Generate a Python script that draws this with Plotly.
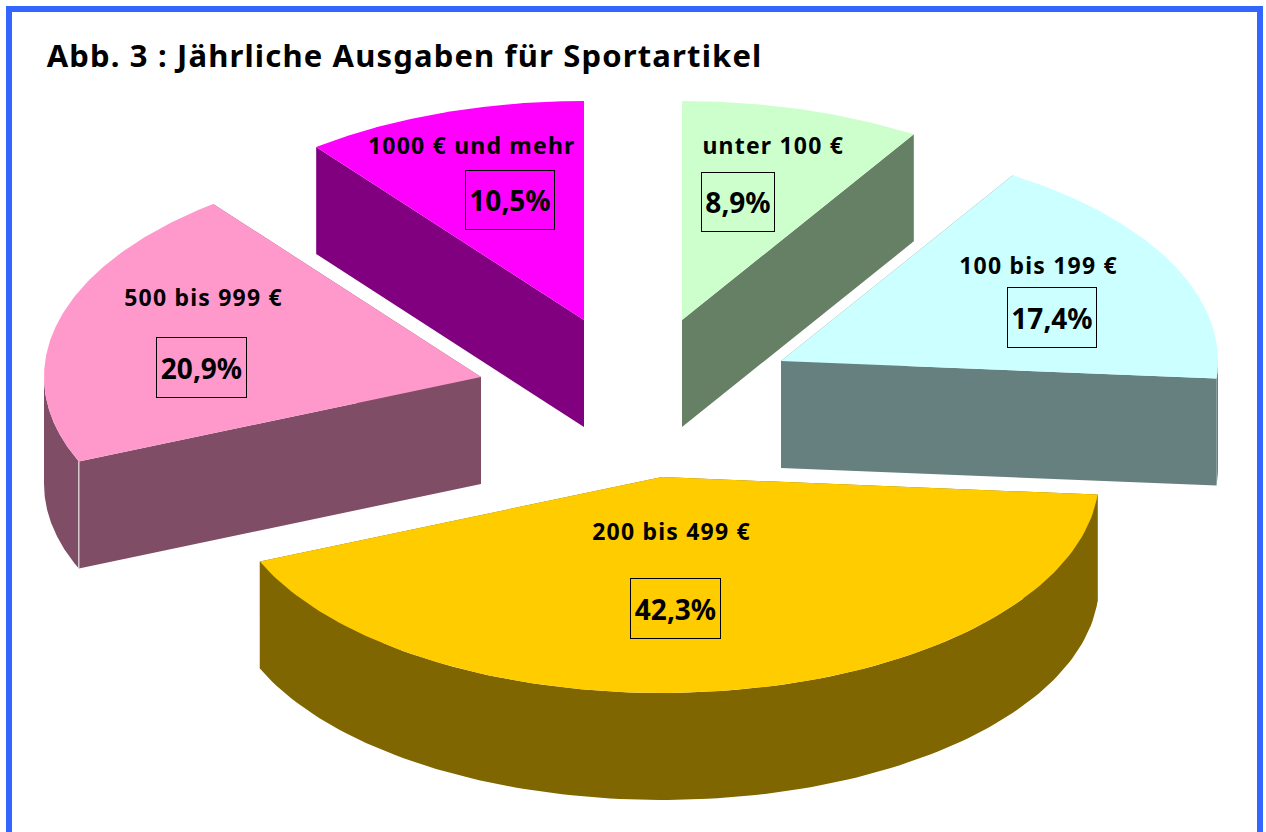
import numpy as np
import plotly.graph_objects as go

# --- data ---
categories = ["unter 100 €", "100 bis 199 €", "200 bis 499 €", "500 bis 999 €", "1000 € und mehr"]
shares = [8.9, 17.4, 42.3, 20.9, 10.5]
title_text = "Abb. 3 : Jährliche Ausgaben für Sportartikel"

# --- style ---
top_colors = ["#CCFFCC", "#CCFFFF", "#FFCC00", "#FF99CC", "#FF00FF"]
side_colors = ["#668066", "#668080", "#806600", "#804D66", "#800080"]
FONT = "Noto Sans"

# --- layout of the exploded 3D pie, in page pixels ---
apex_x = [682, 781, 662, 481, 584]
apex_y = [320, 361, 477, 377, 320]
RX, RY_BACK, RY_FRONT, DEPTH = 437, 219, 216, 107
label_pos = [(773, 145), (1038, 265), (671, 531), (203, 297), (472, 145)]
box_pos = [(737.5, 202, 75, 61), (1051.5, 317, 91, 62), (675, 608, 92, 62),
           (201, 367, 92, 62), (509.5, 200, 91, 61)]


def rim(cx, cy, a0, a1, n=120):
    t = np.linspace(a0, a1, n)
    c = np.cos(t)
    return cx + RX * np.sin(t), cy - np.where(c > 0, RY_BACK, RY_FRONT) * c


fig = go.Figure()


def poly(xs, ys, color, name):
    fig.add_trace(go.Scatter(x=list(xs), y=list(ys), mode="lines", fill="toself",
                             fillcolor=color, line=dict(color=color, width=0),
                             hoverinfo="name", name=name, showlegend=False))


bounds = np.concatenate([[0], np.cumsum(shares)]) / sum(shares) * 2 * np.pi
for i, cat in enumerate(categories):
    cx, cy = apex_x[i], apex_y[i]
    a0, a1 = bounds[i], bounds[i + 1]
    side = side_colors[i]
    # radial walls
    for a in (a0, a1):
        ex, ey = rim(cx, cy, a, a, 1)
        poly([cx, ex[0], ex[0], cx], [cy, ey[0], ey[0] + DEPTH, cy + DEPTH], side, cat)
    # outer wall: only the front half of the ellipse is visible
    lo, hi = max(a0, np.pi / 2), min(a1, 3 * np.pi / 2)
    if hi > lo:
        ax, ay = rim(cx, cy, lo, hi)
        poly(np.r_[ax, ax[::-1]], np.r_[ay, ay[::-1] + DEPTH], side, cat)
    # top face
    tx, ty = rim(cx, cy, a0, a1)
    poly(np.r_[cx, tx], np.r_[cy, ty], top_colors[i], cat)

# white seam on the pink slice
ex, ey = rim(apex_x[3], apex_y[3], bounds[3], bounds[3], 1)
fig.add_trace(go.Scatter(x=[ex[0], ex[0]], y=[ey[0], ey[0] + DEPTH], mode="lines",
                         line=dict(color="#FFFFFF", width=1), hoverinfo="skip", showlegend=False))

annotations = [dict(x=70, y=55, xanchor="left", yanchor="middle", xref="x", yref="y",
                    text=f"<b>{title_text}</b>", showarrow=False,
                    font=dict(family=FONT, size=31, color="#000000"))]
for cat, val, (lx, ly), (bx, by, bw, bh) in zip(categories, shares, label_pos, box_pos):
    annotations.append(dict(x=lx, y=ly, xref="x", yref="y", text=f"<b>{cat}</b>", showarrow=False,
                            font=dict(family=FONT, size=23, color="#000000")))
    annotations.append(dict(x=bx, y=by, xref="x", yref="y", text=f"<b>{val:.1f}%</b>".replace(".", ","),
                            showarrow=False, font=dict(family=FONT, size=28, color="#000000"),
                            width=bw - 3, height=bh - 3, borderpad=0, borderwidth=1, bordercolor="#000000"))

frame = dict(type="rect", xref="x", yref="y", x0=9, x1=1260, y0=9, y1=860,
             line=dict(color="#3366FF", width=6), fillcolor="rgba(0,0,0,0)")

fig.update_layout(width=1266, height=832, margin=dict(l=0, r=0, t=0, b=0),
                  paper_bgcolor="#FFFFFF", plot_bgcolor="#FFFFFF", showlegend=False,
                  xaxis=dict(range=[0, 1266], visible=False, fixedrange=True),
                  yaxis=dict(range=[832, 0], visible=False, fixedrange=True),
                  shapes=[frame], annotations=annotations)

label_idx = [1 + 2 * i for i in range(len(categories))]
css = '.annotation[data-index="0"] text{letter-spacing:1.15px}' + "".join(
    f'.annotation[data-index="{k}"] text{{letter-spacing:1.2px}}' for k in label_idx)
post = ("document.body.style.margin='0';document.body.style.overflow='hidden';"
        "var s=document.createElement('style');s.textContent=%r;document.head.appendChild(s);" % css)
fig.write_html("out.html", post_script=post, config=dict(displayModeBar=False))
